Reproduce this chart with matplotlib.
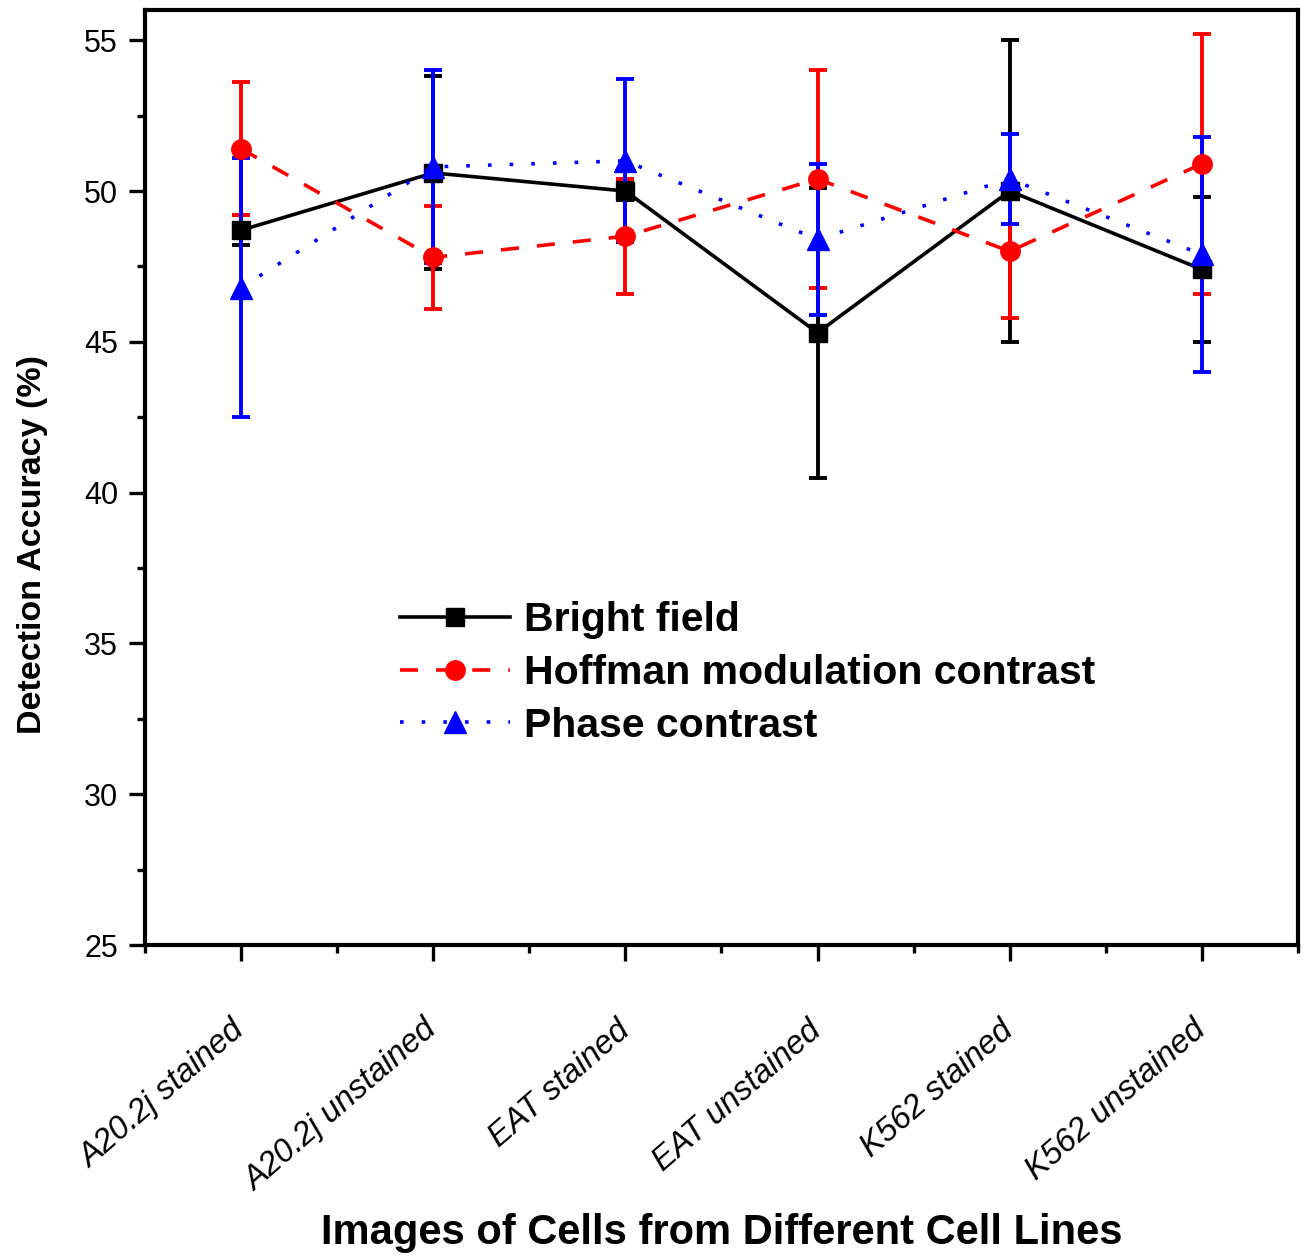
import numpy as np
import matplotlib.pyplot as plt

plt.rcParams['font.family'] = ['Liberation Sans', 'DejaVu Sans']

cell_lines = ["A20.2j stained", "A20.2j unstained", "EAT stained",
              "EAT unstained", "K562 stained", "K562 unstained"]

bright = [48.7, 50.6, 50.0, 45.3, 50.0, 47.4]
bright_err = [0.5, 3.2, 0.3, 4.8, 5.0, 2.4]

hoffman = [51.4, 47.8, 48.5, 50.4, 48.0, 50.9]
hoffman_err = [2.2, 1.7, 1.9, 3.6, 2.2, 4.3]

phase = [46.8, 50.8, 51.0, 48.4, 50.4, 47.9]
phase_err = [4.3, 3.2, 2.7, 2.5, 1.5, 3.9]

x = np.arange(1, len(cell_lines) + 1)

fig = plt.figure(figsize=(13.06, 12.56), dpi=100)
ax = fig.add_axes([0.111, 0.2476, 0.8828, 0.7444])

lw = 2.6
eb1 = ax.errorbar(x, bright, yerr=bright_err, color="black", linestyle="-",
                  linewidth=lw, marker="s", markersize=12.5, capsize=6.5,
                  capthick=2.8, elinewidth=2.8, label="Bright field")
eb2 = ax.errorbar(x, hoffman, yerr=hoffman_err, color="red",
                  linestyle=(0, (5, 5)), linewidth=lw, marker="o",
                  markersize=14, capsize=6.5, capthick=2.8, elinewidth=2.8,
                  label="Hoffman modulation contrast")
eb3 = ax.errorbar(x, phase, yerr=phase_err, color="blue",
                  linestyle=(0, (1, 5)), linewidth=lw, marker="^",
                  markersize=16, capsize=6.5, capthick=2.8, elinewidth=2.8,
                  label="Phase contrast")

ax.set_xlim(0.5, 6.5)
ax.set_ylim(25, 56)
ax.set_yticks(np.arange(25, 56, 5))
ax.set_yticks(np.arange(27.5, 56, 5), minor=True)
ax.set_xticks(x)
ax.set_xticks(np.arange(0.5, 7, 1), minor=True)

ax.set_xticklabels(cell_lines, rotation=41, ha="right", va="center",
                   rotation_mode="anchor", fontsize=23.5, style="italic")
ax.tick_params(axis="y", labelsize=22, pad=8)
ax.tick_params(which="major", direction="out", length=11.5, width=2.4)
ax.tick_params(which="minor", direction="out", length=5.5, width=2.4)
ax.tick_params(axis="x", which="major", pad=47)

for side in ax.spines.values():
    side.set_linewidth(3)

ax.set_ylabel("Detection Accuracy (%)", fontsize=24.5, fontweight="bold")
ax.yaxis.set_label_coords(-0.084, 0.428)
ax.set_xlabel("Images of Cells from Different Cell Lines", fontsize=30,
              fontweight="bold")
ax.xaxis.set_label_coords(0.5, -0.287)

handles = [eb1[0], eb2[0], eb3[0]]
labels = ["Bright field", "Hoffman modulation contrast", "Phase contrast"]
ax.legend(handles, labels, loc="center left", bbox_to_anchor=(0.221, 0.291),
          frameon=False, numpoints=1, handlelength=2.7, handletextpad=0.33,
          labelspacing=0.36, borderpad=0, borderaxespad=0,
          prop={"size": 29.5, "weight": "bold"})

fig.savefig("out.png", dpi=100)
